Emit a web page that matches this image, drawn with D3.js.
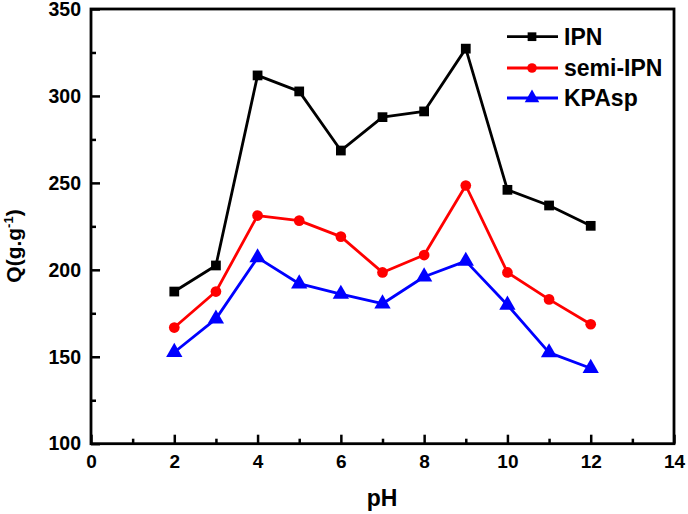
<!DOCTYPE html>
<html><head><meta charset="utf-8">
<script src="https://cdn.jsdelivr.net/npm/d3@7"></script>
<style>body{margin:0;background:#fff}svg{display:block}text{font-family:"Liberation Sans",Arial,sans-serif;font-weight:bold}</style>
</head><body><svg id="c" width="688" height="514"></svg>
<script>
const pH = [2,3,4,5,6,7,8,9,10,11,12];
const ipn = [187.5,202.5,311.8,302.6,268.6,287.8,291.1,327.2,246,237,225.3];
const semiIpn = [166.8,187.5,231.2,228.3,219.1,198.5,208.5,248.5,198.5,183,168.7];
const kpasp = [152.6,171.8,207,192,186,180.5,196,205,179.8,152.4,143.4];
const seriesNames = ["IPN","semi-IPN","KPAsp"];
const seriesColors = ["#000000","#ff0000","#0000ff"];
const xTicks = [0,2,4,6,8,10,12,14];
const yTicks = [100,150,200,250,300,350];

const svg = d3.select("#c");
const L=91, R=674, T=9, B=443.7;
const x = d3.scaleLinear().domain([0,14]).range([L,R]);
const y = d3.scaleLinear().domain([100,350]).range([B,T]);

// frame
svg.append("rect").attr("x",L).attr("y",T).attr("width",R-L).attr("height",B-T)
  .attr("fill","none").attr("stroke","#000").attr("stroke-width",2.8);

// x axis
const xa = svg.append("g").attr("transform",`translate(0,${B})`)
  .call(d3.axisBottom(x).tickValues(xTicks).tickSize(-9).tickPadding(11).tickFormat(d3.format("d")));
xa.select(".domain").remove();
xa.selectAll(".tick line").attr("stroke-width",2.5);
xa.selectAll("text").attr("font-size",19).attr("fill","#000");
svg.append("g").attr("transform",`translate(0,${B})`)
  .call(d3.axisBottom(x).tickValues(d3.range(1,14,2)).tickSize(-5).tickFormat(""))
  .call(g=>{g.select(".domain").remove();g.selectAll("line").attr("stroke-width",2.5);});

// y axis
const ya = svg.append("g").attr("transform",`translate(${L},0)`)
  .call(d3.axisLeft(y).tickValues(yTicks).tickSize(-9).tickPadding(10));
ya.select(".domain").remove();
ya.selectAll(".tick line").attr("stroke-width",2.5);
ya.selectAll("text").attr("font-size",19.5).attr("fill","#000");
svg.append("g").attr("transform",`translate(${L},0)`)
  .call(d3.axisLeft(y).tickValues([125,175,225,275,325]).tickSize(-5).tickFormat(""))
  .call(g=>{g.select(".domain").remove();g.selectAll("line").attr("stroke-width",2.5);});

// axis titles
svg.append("text").attr("x",382).attr("y",506).attr("text-anchor","middle").attr("font-size",23).text("pH");
const yt = svg.append("text").attr("transform",`translate(21,246) rotate(-90)`).attr("text-anchor","middle").attr("font-size",21);
yt.append("tspan").text("Q(g.g");
yt.append("tspan").attr("dy",-8).attr("font-size",13).text("-1");
yt.append("tspan").attr("dy",8).text(")");

const data = [ipn, semiIpn, kpasp];
const line = d3.line().x((d,i)=>x(pH[i])).y(d=>y(d));
const sym = [d3.symbolSquare, d3.symbolCircle, d3.symbolTriangle];
const symSize = [95, 90, 115];

data.forEach((vals,k)=>{
  svg.append("path").datum(vals).attr("d",line).attr("fill","none")
    .attr("stroke",seriesColors[k]).attr("stroke-width",2.8).attr("stroke-linejoin","round");
  svg.selectAll(null).data(vals).enter().append("path")
    .attr("d",d3.symbol().type(sym[k]).size(symSize[k]))
    .attr("transform",(d,i)=>`translate(${x(pH[i])},${y(d)})`)
    .attr("fill",seriesColors[k]);
});

// legend
const ly = [36.7, 68, 98];
seriesNames.forEach((n,k)=>{
  svg.append("line").attr("x1",507).attr("x2",558).attr("y1",ly[k]).attr("y2",ly[k])
    .attr("stroke",seriesColors[k]).attr("stroke-width",2.8);
  svg.append("path").attr("d",d3.symbol().type(sym[k]).size(symSize[k]*0.8))
    .attr("transform",`translate(532,${ly[k]})`).attr("fill",seriesColors[k]);
  svg.append("text").attr("x",564).attr("y",ly[k]+8.3).attr("font-size",23).text(n);
});
</script></body></html>
